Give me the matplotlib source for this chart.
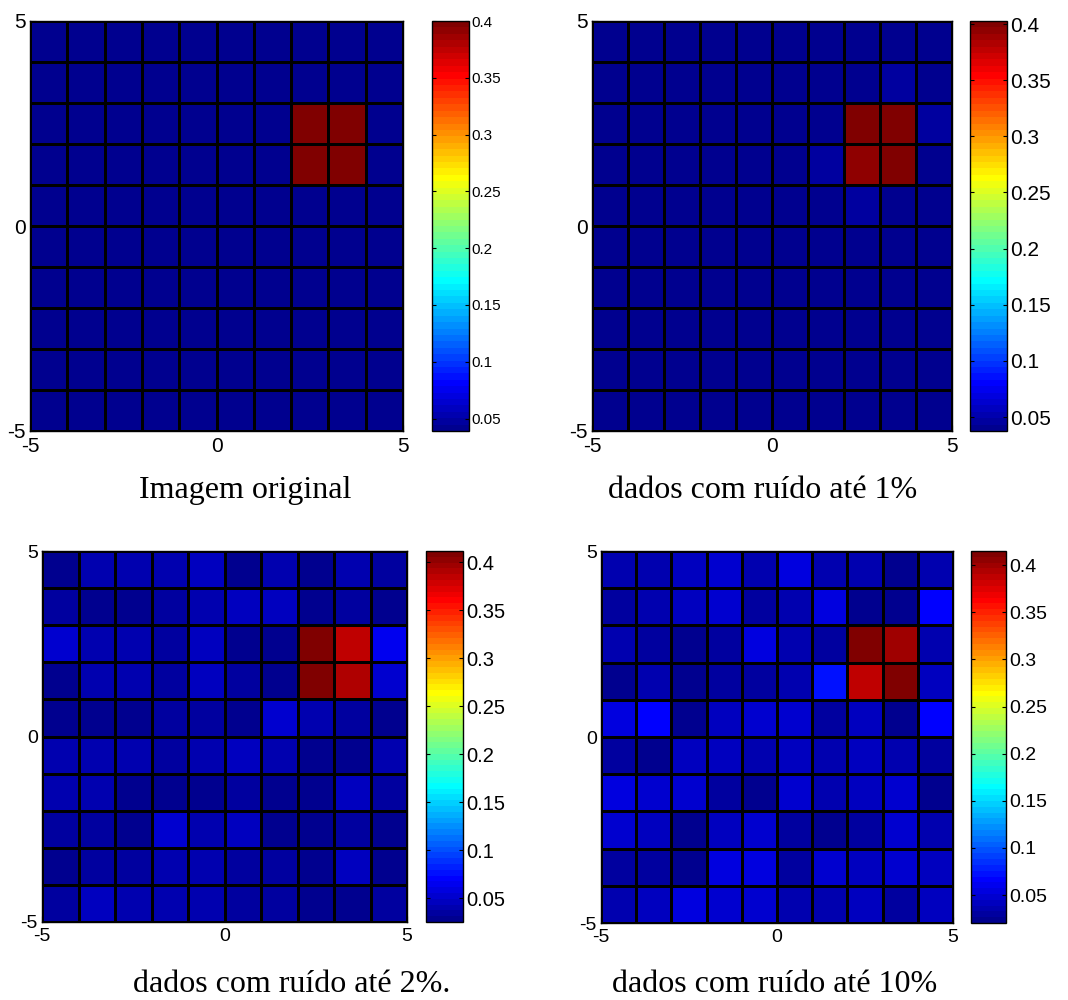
import numpy as np
import matplotlib.pyplot as plt
from matplotlib.colors import ListedColormap
from matplotlib.ticker import FormatStrFormatter

plt.rcParams['font.family'] = 'Liberation Sans'
plt.rcParams['axes.unicode_minus'] = False

W, H = 1068, 1000

# grade 10x10 de -5 a 5 (linhas de cima para baixo)
bordas = np.linspace(-5, 5, 11)

# Imagem original
img_orig = np.full((10, 10), 0.039)
img_orig[2:4, 7:9] = 0.4

# dados com ruído até 1%
img_1 = np.array([
    [0.0376, 0.040, 0.040, 0.040, 0.040, 0.040, 0.040, 0.040, 0.040, 0.040],
    [0.040, 0.040, 0.040, 0.040, 0.040, 0.040, 0.040, 0.040, 0.045, 0.040],
    [0.040, 0.040, 0.040, 0.040, 0.040, 0.040, 0.040, 0.4027, 0.397, 0.045],
    [0.040, 0.040, 0.040, 0.040, 0.040, 0.040, 0.046, 0.392, 0.401, 0.040],
    [0.040, 0.040, 0.040, 0.040, 0.040, 0.040, 0.040, 0.049, 0.040, 0.040],
    [0.040, 0.040, 0.040, 0.040, 0.040, 0.040, 0.040, 0.040, 0.040, 0.040],
    [0.040, 0.040, 0.040, 0.040, 0.040, 0.040, 0.040, 0.040, 0.040, 0.040],
    [0.040, 0.040, 0.040, 0.040, 0.040, 0.040, 0.040, 0.040, 0.040, 0.040],
    [0.040, 0.040, 0.040, 0.040, 0.040, 0.040, 0.040, 0.040, 0.040, 0.040],
    [0.040, 0.040, 0.040, 0.040, 0.040, 0.040, 0.040, 0.040, 0.040, 0.040],
])

# dados com ruído até 2%
img_2 = np.array([
    [0.029, 0.042, 0.042, 0.042, 0.044, 0.025, 0.042, 0.027, 0.040, 0.035],
    [0.032, 0.026, 0.026, 0.032, 0.038, 0.046, 0.044, 0.029, 0.035, 0.029],
    [0.055, 0.038, 0.040, 0.032, 0.046, 0.029, 0.026, 0.4115, 0.386, 0.063],
    [0.029, 0.038, 0.040, 0.032, 0.046, 0.032, 0.029, 0.408, 0.390, 0.055],
    [0.029, 0.029, 0.029, 0.035, 0.032, 0.029, 0.055, 0.038, 0.034, 0.026],
    [0.038, 0.038, 0.038, 0.032, 0.038, 0.046, 0.038, 0.026, 0.029, 0.038],
    [0.038, 0.038, 0.029, 0.029, 0.029, 0.032, 0.029, 0.029, 0.044, 0.035],
    [0.035, 0.035, 0.029, 0.052, 0.038, 0.044, 0.029, 0.027, 0.032, 0.029],
    [0.027, 0.035, 0.035, 0.038, 0.038, 0.035, 0.035, 0.027, 0.044, 0.029],
    [0.035, 0.044, 0.038, 0.038, 0.038, 0.035, 0.035, 0.029, 0.029, 0.035],
])

# dados com ruído até 10%
img_10 = np.array([
    [0.038, 0.036, 0.042, 0.045, 0.033, 0.057, 0.033, 0.038, 0.025, 0.033],
    [0.031, 0.038, 0.039, 0.046, 0.027, 0.036, 0.055, 0.0203, 0.022, 0.066],
    [0.036, 0.029, 0.025, 0.027, 0.053, 0.036, 0.031, 0.415, 0.399, 0.038],
    [0.025, 0.038, 0.025, 0.027, 0.027, 0.038, 0.070, 0.385, 0.411, 0.042],
    [0.055, 0.064, 0.025, 0.039, 0.051, 0.048, 0.027, 0.039, 0.022, 0.065],
    [0.029, 0.022, 0.039, 0.042, 0.033, 0.039, 0.033, 0.042, 0.033, 0.031],
    [0.055, 0.046, 0.048, 0.027, 0.022, 0.045, 0.038, 0.042, 0.046, 0.022],
    [0.046, 0.039, 0.022, 0.042, 0.048, 0.029, 0.025, 0.027, 0.048, 0.033],
    [0.029, 0.029, 0.025, 0.055, 0.055, 0.027, 0.046, 0.042, 0.048, 0.039],
    [0.033, 0.042, 0.053, 0.048, 0.048, 0.036, 0.033, 0.039, 0.027, 0.042],
])

legendas = ['Imagem original', 'dados com ruído até 1%',
            'dados com ruído até 2%.', 'dados com ruído até 10%']
cb_ticks = [0.05, 0.1, 0.15, 0.2, 0.25, 0.3, 0.35, 0.4]


def jet_matlab(m=64):
    # mesma construção do jet(64) do MATLAB
    n = int(np.ceil(m / 4))
    u = np.concatenate([np.arange(1, n + 1) / n, np.ones(n - 1), np.arange(n, 0, -1) / n])
    g = int(np.ceil(n / 2)) - (1 if m % 4 == 1 else 0) + np.arange(1, len(u) + 1)
    r = g + n
    b = g - n
    J = np.zeros((m, 3))
    for k in range(len(u)):
        if r[k] <= m:
            J[r[k] - 1, 0] = u[k]
        if g[k] <= m:
            J[g[k] - 1, 1] = u[k]
        if b[k] >= 1:
            J[b[k] - 1, 2] = u[k]
    return ListedColormap(J)


def ret(x0, y0, x1, y1):
    return [x0 / W, 1 - y1 / H, (x1 - x0) / W, (y1 - y0) / H]


cmap = jet_matlab()

# (dados, eixo, colorbar, fonte ticks, fonte colorbar, centro legenda, base legenda)
paineis = [
    (img_orig, (30, 21, 403, 431), (432, 21, 469, 431), 15, 11, 245, 498),
    (img_1, (592, 21, 952, 431), (970, 21, 1007, 431), 15, 15, 763, 498),
    (img_2, (42, 551, 407, 922), (426, 551, 463, 922), 14, 14.5, 292, 992),
    (img_10, (601, 551, 953, 923), (971, 551, 1006, 923), 14, 14, 775, 992),
]

fig = plt.figure(figsize=(W / 100, H / 100), dpi=100)

for (dados, r_ax, r_cb, fs_t, fs_cb, cx, by), texto in zip(paineis, legendas):
    ax = fig.add_axes(ret(*r_ax))
    m = ax.pcolormesh(bordas, bordas, np.flipud(dados), cmap=cmap,
                      edgecolors='k', linewidth=0.75, snap=True)
    ax.set_xlim(-5, 5)
    ax.set_ylim(-5, 5)
    ax.set_xticks([-5, 0, 5])
    ax.set_yticks([-5, 0, 5])
    ax.tick_params(direction='in', length=4, labelsize=fs_t)
    ax.tick_params(axis='x', pad=4)
    ax.tick_params(axis='y', pad=3)
    for s in ax.spines.values():
        s.set_linewidth(1)

    cax = fig.add_axes(ret(*r_cb))
    cb = fig.colorbar(m, cax=cax, ticks=cb_ticks)
    cb.ax.yaxis.set_major_formatter(FormatStrFormatter('%g'))
    cb.ax.tick_params(direction='in', length=3, left=True, right=True,
                      labelsize=fs_cb, pad=2)
    cb.outline.set_linewidth(1)

    fig.text(cx / W, 1 - by / H, texto, ha='center', va='baseline',
             fontfamily='Liberation Serif', fontsize=23)

fig.savefig('out.png', dpi=100)
